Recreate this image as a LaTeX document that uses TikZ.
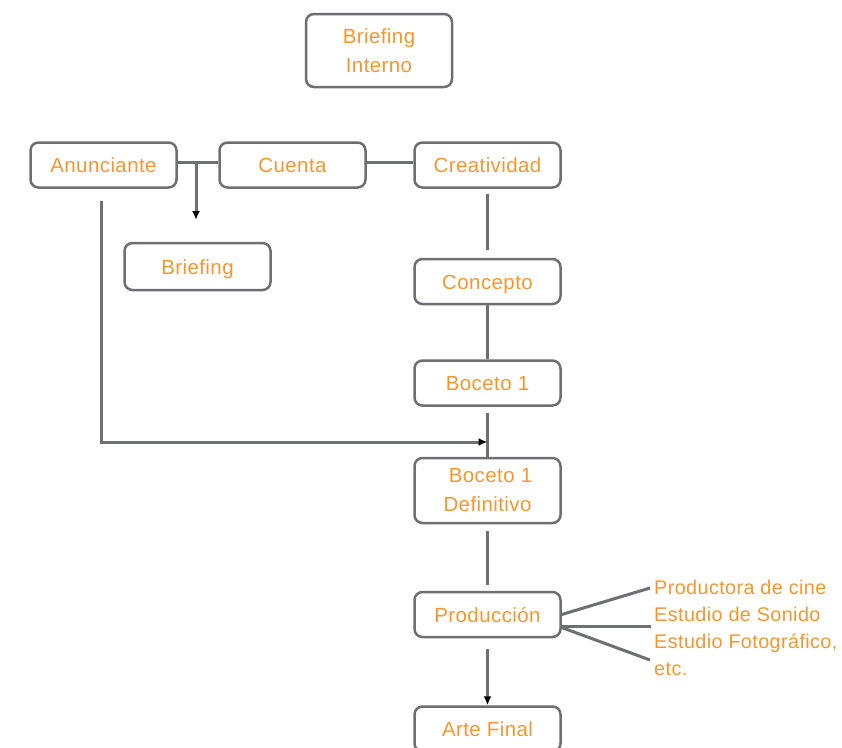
\documentclass[tikz,border=0pt]{standalone}
\usepackage{fontspec}
\setmainfont{Liberation Sans}[LetterSpace=2]
\definecolor{naranja}{HTML}{F7962F}
\definecolor{gris}{HTML}{6E6F72}
\usetikzlibrary{calc, arrows.meta}
\tikzset{caja/.style = {draw=gris, line width=2.5pt, rounded corners=8pt, minimum width=146pt, minimum height=45pt, text=naranja, align=center, font=\fontsize{20.5}{29}\selectfont}}
\tikzset{una/.style = {text height=16pt, text depth=1pt}}
\tikzset{linea/.style = {draw=gris, line width=3pt}}
\tikzset{flecha/.style = {linea, -{Latex[color=black, length=9pt, width=8pt]}}}

\begin{document}
\begin{tikzpicture}[x=1pt, y=-1pt]
		\useasboundingbox (0,0) rectangle (842,747);
		\node[caja, minimum height=73pt] (bint) at (379,50.5) {Briefing\\ Interno};
		\node[caja, una] (anun) at (103.5,165) {Anunciante};
		\node[caja, una] (cta) at (292.5,165) {Cuenta};
		\node[caja, una] (crea) at (487.5,165) {Creatividad};
		\node[caja, una, minimum height=47pt] (brief) at (197.5,266.5) {Briefing};
		\node[caja, una] (conc) at (487.5,281.5) {Concepto};
		\node[caja, una] (b1) at (487.5,383) {Boceto 1};
		\node[caja, minimum height=65pt] (b1d) at (487.5,490.5) {\ Boceto 1\\Definitivo\ };
		\node[caja, una] (prod) at (487.5,614.5) {Producción};
		\node[caja, una] (arte) at (487.5,729) {Arte Final};
		\node[anchor=north west, inner sep=0pt, text=naranja, align=left, font=\fontsize{19.8}{27}\selectfont] (otros) at (654,579.5) {Productora de cine\\Estudio de Sonido\\Estudio Fotográfico,\\etc.};
		\coordinate (m) at (196,162);
		\coordinate (mb) at (196,220);
		\coordinate (j) at (487.5,442);
		\coordinate (p1) at (650,588);
		\coordinate (p2) at (651,626);
		\coordinate (p3) at (650,660);
		% fila superior
		\draw[linea] (anun.east |- m) -- (cta.west |- m);
		\draw[linea] (cta.east |- m) -- (crea.west |- m);
		\draw[flecha] (m) -- (mb);
		% columna
		\draw[linea] ([yshift=-5.5pt]crea.south) -- ([yshift=8pt]conc.north);
		\draw[linea] (conc) -- (b1);
		\draw[linea] ([yshift=-6pt]b1.south) -- (b1d.north);
		\draw[flecha] ([xshift=-2.5pt, yshift=-12pt]anun.south) |- (j);
		\draw[linea] ([yshift=-7pt]b1d.south) -- ([yshift=6pt]prod.north);
		\draw[flecha] ([yshift=-11pt]prod.south) -- (arte.north);
		% proveedores
		\draw[linea] (prod.east) -- (p1);
		\draw[linea] ([yshift=-11.5pt]prod.east) -- (p2);
		\draw[linea] ([yshift=-13pt]prod.east) -- (p3);
	\end{tikzpicture}
\end{document}
